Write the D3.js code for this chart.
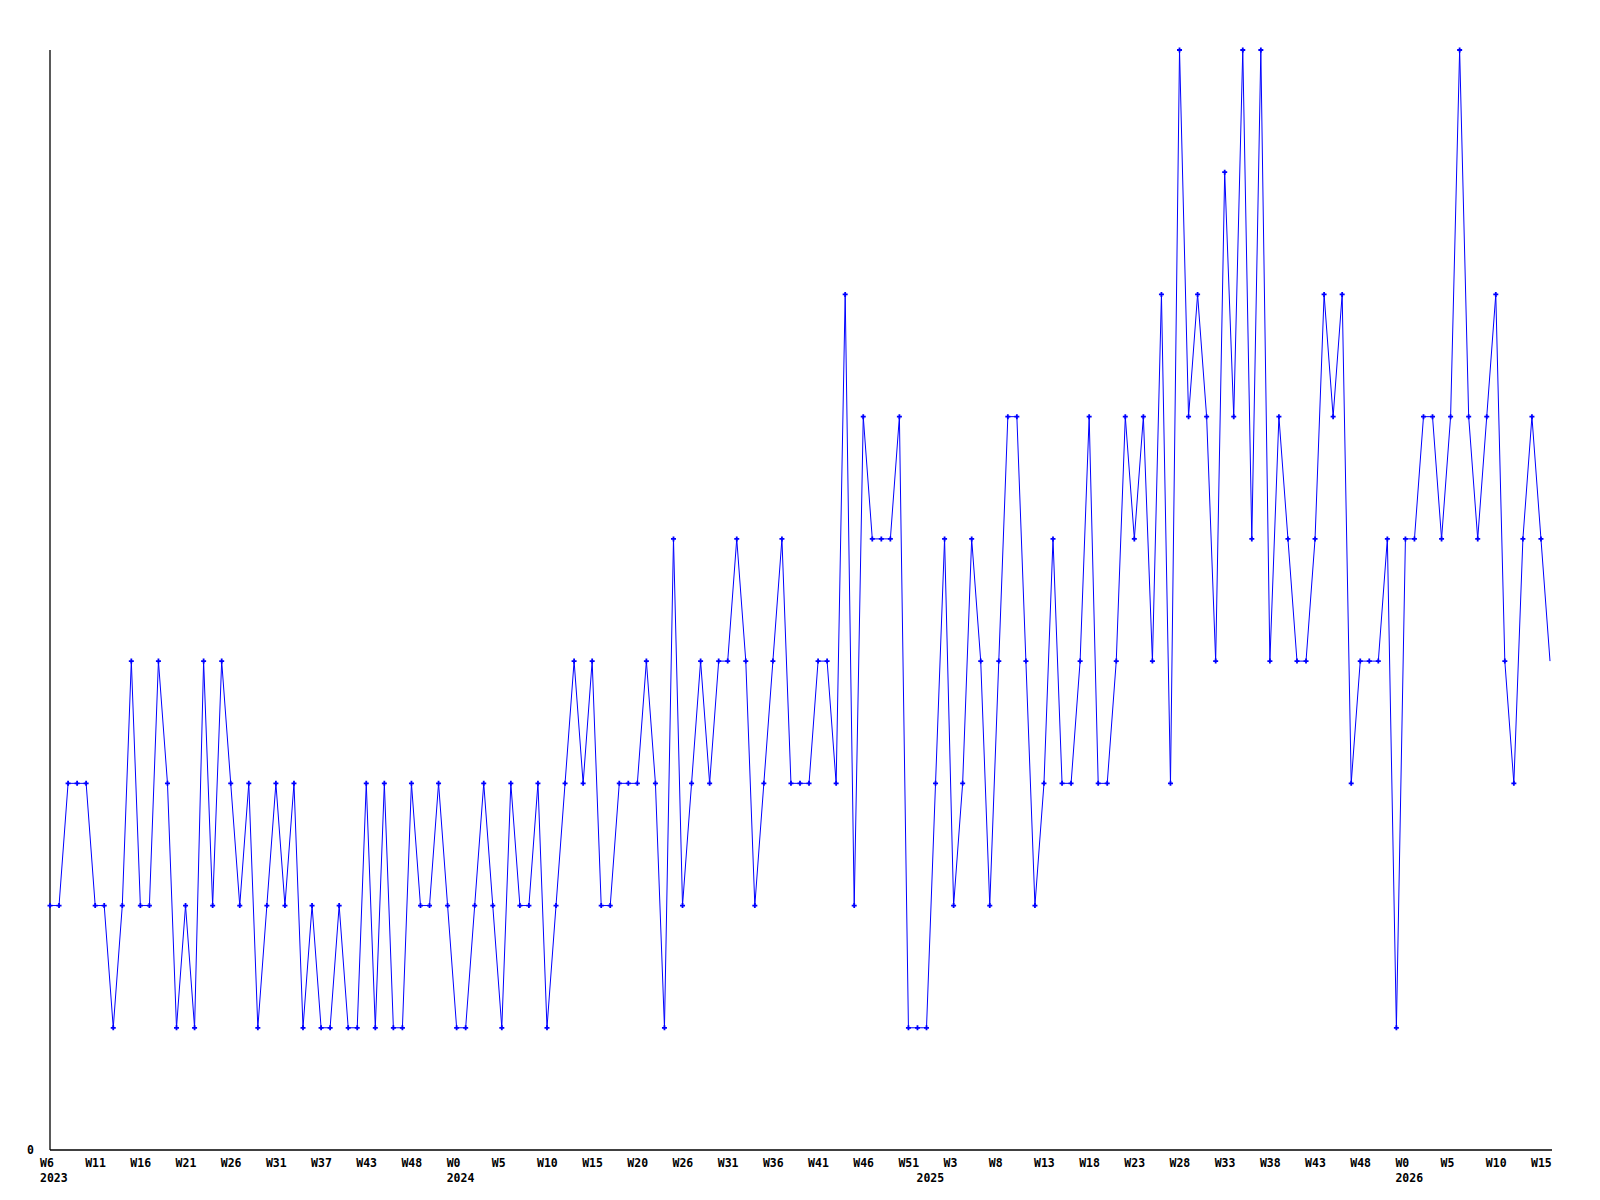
<!DOCTYPE html>
<html>
<head>
<meta charset="utf-8">
<script src="https://cdn.jsdelivr.net/npm/d3@7"></script>
<style>
  body { margin: 0; background: #fff; }
  text { font-family: "DejaVu Sans Mono", monospace; font-weight: bold; font-size: 11.5px; fill: #000; }
</style>
</head>
<body>
<script>
// weekly counts, one value per week (W6 2023 .. W15 2026)
const values = [
    2, 2, 3, 3, 3, 2, 2, 1, 2, 4, 2, 2, 4, 3, 1, 2, 1, 4, 2, 4, 3, 2, 3, 1, 2, 3, 2, 3,
    1, 2, 1, 1, 2, 1, 1, 3, 1, 3, 1, 1, 3, 2, 2, 3, 2, 1, 1, 2, 3, 2, 1, 3, 2, 2, 3, 1,
    2, 3, 4, 3, 4, 2, 2, 3, 3, 3, 4, 3, 1, 5, 2, 3, 4, 3, 4, 4, 5, 4, 2, 3, 4, 5, 3, 3, 3, 4, 4, 3,
    7, 2, 6, 5, 5, 5, 6, 1, 1, 1, 3, 5, 2, 3, 5, 4, 2, 4, 6, 6, 4, 2, 3, 5, 3, 3, 4, 6, 3, 3, 4, 6, 5,
    6, 4, 7, 3, 9, 6, 7, 6, 4, 8, 6, 9, 5, 9, 4, 6, 5, 4, 4, 5, 7, 6, 7, 3, 4, 4, 4,
    5, 1, 5, 5, 6, 6, 5, 6, 9, 6, 5, 6, 7, 4, 3, 5, 6, 5, 4
];
// week labels, one every 5 points
const weekLabels = ['W6', 'W11', 'W16', 'W21', 'W26', 'W31', 'W37', 'W43', 'W48', 'W0', 'W5',
    'W10', 'W15', 'W20', 'W26', 'W31', 'W36', 'W41', 'W46', 'W51', 'W3', 'W8', 'W13', 'W18',
    'W23', 'W28', 'W33', 'W38', 'W43', 'W48', 'W0', 'W5', 'W10', 'W15'];
// year labels and the point index where each year starts
const years = ['2023', '2024', '2025', '2026'];
const yearIndex = [0, 45, 97, 150];
const yTicks = [0];

const margin = { top: 50, left: 50, right: 49, bottom: 50 };
const width = 1600 - margin.left - margin.right;
const height = 1200 - margin.top - margin.bottom;

const svg = d3.select('body').append('svg')
    .attr('width', 1600)
    .attr('height', 1200);
const root = svg.append('g').attr('transform', `translate(${margin.left},${margin.top})`);

const xscale = d3.scaleLinear().domain([0, values.length - 1]).range([0, width - 1]);
const yscale = d3.scaleLinear().domain([0, 9]).range([height, 0]);

//axes
root.append('line').attr('x1', 0).attr('x2', 0).attr('y1', 0).attr('y2', height)
    .attr('stroke', '#000').attr('stroke-width', 1.3);
root.append('line').attr('x1', 0).attr('x2', width + 1).attr('y1', height).attr('y2', height)
    .attr('stroke', '#000').attr('stroke-width', 1.3);

root.selectAll('text.ylab').data(yTicks).enter().append('text')
    .attr('class', 'ylab')
    .attr('x', -23)
    .attr('y', (d) => yscale(d) + 3.5)
    .text(String);

root.selectAll('text.week').data(weekLabels).enter().append('text')
    .attr('class', 'week')
    .attr('x', (d, i) => xscale(i * 5) - 10)
    .attr('y', height + 16.5)
    .text(String);

root.selectAll('text.year').data(years).enter().append('text')
    .attr('class', 'year')
    .attr('x', (d, i) => xscale(yearIndex[i]) - 10)
    .attr('y', height + 31.5)
    .text(String);

//line
const line = d3.line()
    .x((d, i) => xscale(i))
    .y((d) => yscale(d));
root.append('path').datum(values)
    .attr('d', line)
    .attr('fill', 'none')
    .attr('stroke', '#0000ff')
    .attr('stroke-width', 1);

//point markers (the last, unfinished week has none)
root.selectAll('path.pt').data(values.slice(0, -1)).enter().append('path')
    .attr('class', 'pt')
    .attr('d', (d, i) => {
        const x = xscale(i), y = yscale(d);
        return `M${x - 2.5},${y}h5M${x},${y - 2.5}v5`;
    })
    .attr('stroke', '#0000ff')
    .attr('stroke-width', 1.8);
</script>
</body>
</html>
